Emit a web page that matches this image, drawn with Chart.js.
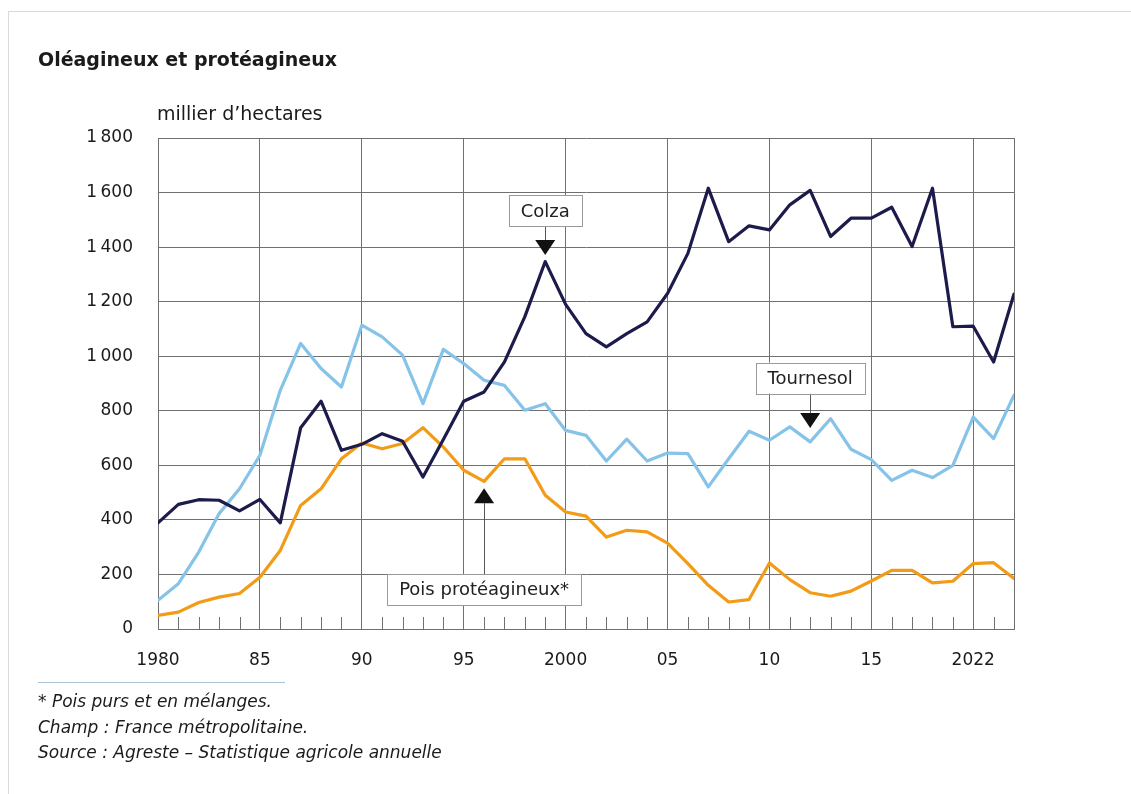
<!DOCTYPE html>
<html>
<head>
<meta charset="utf-8">
<script src="https://cdn.jsdelivr.net/npm/chart.js@4"></script>
<style>
  body { margin: 0; background: #fff; font-family: "DejaVu Sans", sans-serif; color: #1a1a1a; }
  #frame { position: absolute; left: 8px; top: 11px; width: 1200px; height: 900px; border: 1px solid #dadada; }
  #wrap { position: absolute; left: 0; top: 0; width: 1131px; height: 794px; }
  .title { position: absolute; left: 38px; top: 48px; font-size: 19px; font-weight: 700; }
  .unit { position: absolute; left: 157px; top: 102px; font-size: 19px; }
  .sep { position: absolute; left: 38px; top: 682px; width: 247px; height: 1px; background: #a8c3d6; }
  .notes { position: absolute; left: 38px; top: 689px; font-size: 17px; font-style: italic; line-height: 25.5px; }
</style>
</head>
<body>
<div id="frame"></div>
<div id="wrap"><canvas id="chart" width="1131" height="794"></canvas></div>
<div class="title">Oléagineux et protéagineux</div>
<div class="unit">millier d’hectares</div>
<div class="sep"></div>
<div class="notes">* Pois purs et en mélanges.<br>Champ : France métropolitaine.<br>Source : Agreste – Statistique agricole annuelle</div>
<script>
var years = [1980, 1981, 1982, 1983, 1984, 1985, 1986, 1987, 1988, 1989,
             1990, 1991, 1992, 1993, 1994, 1995, 1996, 1997, 1998, 1999,
             2000, 2001, 2002, 2003, 2004, 2005, 2006, 2007, 2008, 2009,
             2010, 2011, 2012, 2013, 2014, 2015, 2016, 2017, 2018, 2019,
             2020, 2021, 2022];
var colza = [389, 457, 474, 472, 433, 475, 389, 738, 835, 655,
             677, 716, 688, 557, 695, 835, 869, 979, 1145, 1347,
             1190, 1083, 1034, 1083, 1126, 1230, 1377, 1616, 1420, 1478,
             1463, 1555, 1608, 1439, 1506, 1506, 1546, 1402, 1616, 1108,
             1110, 979, 1228];
var tournesol = [105, 166, 282, 423, 514, 637, 875, 1047, 955, 887,
                 1114, 1071, 1004, 826, 1025, 973, 912, 893, 802, 826,
                 728, 710, 616, 696, 616, 645, 643, 521, 624, 725,
                 692, 741, 686, 771, 659, 621, 545, 582, 555, 600,
                 777, 698, 857];
var pois = [50, 62, 97, 117, 130, 190, 288, 453, 514, 624,
            682, 661, 680, 738, 667, 582, 541, 624, 624, 490,
            429, 414, 337, 362, 356, 315, 240, 160, 99, 108,
            242, 181, 133, 120, 139, 176, 215, 215, 169, 175,
            240, 243, 185];
var tickYears = [1980, 1985, 1990, 1995, 2000, 2005, 2010, 2015, 2020, 2022];
var tickLabels = ['1980', '85', '90', '95', '2000', '05', '10', '15', '2022', ''];

// callouts: text, year, box centre value, arrow tip value, direction
var callouts = [
  {text: 'Colza', year: 1999, box: 1533, tip: 1371, dir: 'down'},
  {text: 'Tournesol', year: 2012, box: 920, tip: 737, dir: 'down'},
  {text: 'Pois protéagineux*', year: 1996, box: 144, tip: 516, dir: 'up'}
];

var gridColor = '#707070';
var font = '"DejaVu Sans", sans-serif';

function pts(vals) {
  return years.map(function (y, i) { return {x: y, y: vals[i]}; });
}

var extras = {
  id: 'extras',
  afterDatasetsDraw: function (chart) {
    var ctx = chart.ctx, xs = chart.scales.x, ys = chart.scales.y, a = chart.chartArea;
    ctx.save();
    // minor year ticks
    ctx.strokeStyle = gridColor;
    ctx.lineWidth = 1;
    years.forEach(function (y) {
      if (y % 5 === 0) return;
      var px = Math.round(xs.getPixelForValue(y)) + 0.5;
      ctx.beginPath();
      ctx.moveTo(px, a.bottom);
      ctx.lineTo(px, a.bottom - 12);
      ctx.stroke();
    });
    // callouts
    ctx.font = '18px ' + font;
    ctx.textAlign = 'center';
    ctx.textBaseline = 'middle';
    callouts.forEach(function (c) {
      var cx = xs.getPixelForValue(c.year);
      var cy = ys.getPixelForValue(c.box);
      var ty = ys.getPixelForValue(c.tip);
      var w = ctx.measureText(c.text).width + 24, h = 31;
      var base = c.dir === 'down' ? ty - 15 : ty + 15;
      var edge = c.dir === 'down' ? cy + h / 2 : cy - h / 2;
      ctx.strokeStyle = '#555';
      ctx.lineWidth = 1;
      ctx.beginPath();
      ctx.moveTo(Math.round(cx) + 0.5, edge);
      ctx.lineTo(Math.round(cx) + 0.5, base);
      ctx.stroke();
      ctx.fillStyle = '#111';
      ctx.beginPath();
      ctx.moveTo(cx - 10, base);
      ctx.lineTo(cx + 10, base);
      ctx.lineTo(cx, ty);
      ctx.closePath();
      ctx.fill();
      ctx.fillStyle = '#fff';
      ctx.fillRect(cx - w / 2, cy - h / 2, w, h);
      ctx.strokeStyle = '#9a9a9a';
      ctx.strokeRect(Math.round(cx - w / 2) + 0.5, Math.round(cy - h / 2) + 0.5, Math.round(w), h);
      ctx.fillStyle = '#222';
      ctx.fillText(c.text, cx, cy + 1);
    });
    ctx.restore();
  }
};

new Chart(document.getElementById('chart'), {
  type: 'line',
  data: {
    datasets: [
      {label: 'Colza', data: pts(colza), borderColor: '#1c1b4b', borderWidth: 3.2},
      {label: 'Pois protéagineux', data: pts(pois), borderColor: '#f29b16', borderWidth: 3.2},
      {label: 'Tournesol', data: pts(tournesol), borderColor: '#86c3e8', borderWidth: 3.2}
    ]
  },
  options: {
    responsive: false,
    animation: false,
    devicePixelRatio: 1,
    layout: {padding: {top: 138, right: 117, bottom: 0, left: 0}},
    elements: {
      point: {radius: 0},
      line: {tension: 0, borderJoinStyle: 'round', borderCapStyle: 'round', fill: false}
    },
    plugins: {legend: {display: false}, tooltip: {enabled: false}},
    scales: {
      x: {
        type: 'linear',
        min: 1980,
        max: 2022,
        afterBuildTicks: function (s) { s.ticks = tickYears.map(function (v) { return {value: v}; }); },
        afterFit: function (s) { s.height = 165; },
        grid: {color: gridColor, lineWidth: 1, drawTicks: false},
        border: {color: gridColor},
        ticks: {
          padding: 21,
          maxRotation: 0,
          autoSkip: false,
          color: '#1a1a1a',
          font: {family: font, size: 17},
          callback: function (v) { var i = tickYears.indexOf(v); return i < 0 ? '' : tickLabels[i]; }
        }
      },
      y: {
        min: 0,
        max: 1800,
        afterFit: function (s) { s.width = 158; },
        grid: {color: gridColor, lineWidth: 1, drawTicks: false},
        border: {color: gridColor},
        ticks: {
          stepSize: 200,
          padding: 25,
          color: '#1a1a1a',
          font: {family: font, size: 17},
          callback: function (v) { return v >= 1000 ? Math.floor(v / 1000) + '\u2009' + String(v % 1000).padStart(3, '0') : String(v); }
        }
      }
    }
  },
  plugins: [extras]
});
</script>
</body>
</html>
